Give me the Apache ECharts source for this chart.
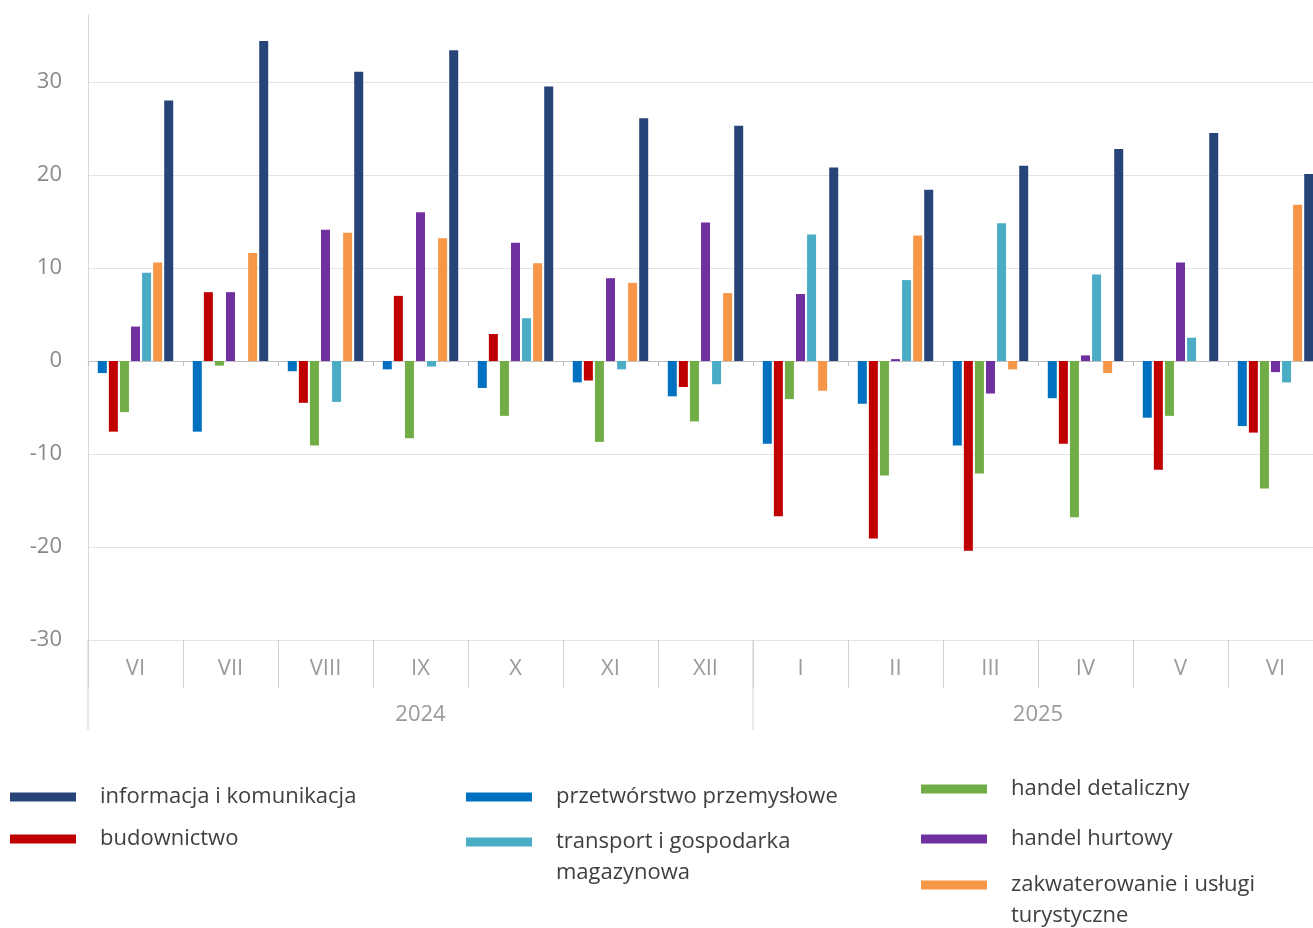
<!DOCTYPE html>
<html><head><meta charset="utf-8">
<script src="https://cdn.jsdelivr.net/npm/echarts@6/dist/echarts.min.js"></script>
<style>html,body{margin:0;padding:0;background:#fff}#c{width:1313px;height:928px}</style>
</head><body><div id="c"></div>
<script>
// ---- data ----
const months = ['VI','VII','VIII','IX','X','XI','XII','I','II','III','IV','V','VI'];
const years = ['2024','2025'];
const yearMonthCounts = [7, 6];
const przetworstwo = [-1.3,-7.6,-1.1,-0.9,-2.9,-2.3,-3.8,-8.9,-4.6,-9.1,-4.0,-6.1,-7.0];
const budownictwo = [-7.6,7.4,-4.5,7.0,2.9,-2.1,-2.8,-16.7,-19.1,-20.4,-8.9,-11.7,-7.7];
const handelDetaliczny = [-5.5,-0.5,-9.1,-8.3,-5.9,-8.7,-6.5,-4.1,-12.3,-12.1,-16.8,-5.9,-13.7];
const handelHurtowy = [3.7,7.4,14.1,16.0,12.7,8.9,14.9,7.2,0.2,-3.5,0.6,10.6,-1.2];
const transport = [9.5,0,-4.4,-0.6,4.6,-0.9,-2.5,13.6,8.7,14.8,9.3,2.5,-2.3];
const zakwaterowanie = [10.6,11.6,13.8,13.2,10.5,8.4,7.3,-3.2,13.5,-0.9,-1.3,0,16.8];
const informacja = [28.0,34.4,31.1,33.4,29.5,26.1,25.3,20.8,18.4,21.0,22.8,24.5,20.1];

const seriesDefs = [
  {name:'przetwórstwo przemysłowe', data: przetworstwo, color:'#0070C0'},
  {name:'budownictwo', data: budownictwo, color:'#C00000'},
  {name:'handel detaliczny', data: handelDetaliczny, color:'#70AD47'},
  {name:'handel hurtowy', data: handelHurtowy, color:'#7030A0'},
  {name:'transport i gospodarka\nmagazynowa', data: transport, color:'#4BACC6'},
  {name:'zakwaterowanie i usługi\nturystyczne', data: zakwaterowanie, color:'#F79646'},
  {name:'informacja i komunikacja', data: informacja, color:'#264478'}
];

const FONT = '"Open Sans", "Noto Sans", sans-serif';
const chart = echarts.init(document.getElementById('c'), null, {renderer:'canvas'});

function legendItem(name, left, top, twoLine) {
  return {
    data: [name], left: left, top: top, orient: 'vertical', padding: 0,
    icon: 'rect', itemWidth: 66, itemHeight: 9, selectedMode: false,
    formatter: twoLine ? (n => '\n' + n) : (n => n),
    textStyle: {fontFamily: FONT, fontSize: 22, color: '#404040', lineHeight: 31,
      padding: [0, 0, 0, 19]}
  };
}

const option = {
  animation: false,
  backgroundColor: '#fff',
  grid: {left: 88, right: -10, top: 15, bottom: 288, containLabel: false, outerBoundsMode: 'none'},
  xAxis: [
    {type: 'category', data: months, position: 'bottom',
     axisLine: {onZero: true, lineStyle: {color: '#bfbfbf', width: 1}},
     axisTick: {show: true, interval: 0, length: 5, lineStyle: {color: '#bfbfbf'}},
     axisLabel: {show: false}, splitLine: {show: false}},
    {type: 'category', data: months, position: 'bottom',
     axisLine: {show: false, onZero: false},
     axisTick: {show: true, interval: 0, length: 48, lineStyle: {color: '#d0d0d0'}},
     axisLabel: {show: true, interval: 0, margin: 18, fontFamily: FONT, fontSize: 22, color: '#9a9a9a'},
     splitLine: {show: false}}
  ],
  yAxis: {
    type: 'value', min: -30, max: 37.2, interval: 10,
    axisLine: {show: true, lineStyle: {color: '#d9d9d9'}},
    axisTick: {show: false},
    axisLabel: {showMaxLabel: false, margin: 26, fontFamily: FONT, fontSize: 22, color: '#8a8a8a'},
    splitLine: {show: true, showMaxLine: false, lineStyle: {color: '#e3e3e3', width: 1}}
  },
  legend: [
    legendItem('informacja i komunikacja', 10, 797 - 15.5, false),
    legendItem('budownictwo', 10, 839 - 15.5, false),
    legendItem('przetwórstwo przemysłowe', 466, 797 - 15.5, false),
    legendItem('transport i gospodarka\nmagazynowa', 466, 842 - 46.5, true),
    legendItem('handel detaliczny', 921, 789 - 15.5, false),
    legendItem('handel hurtowy', 921, 839 - 15.5, false),
    legendItem('zakwaterowanie i usługi\nturystyczne', 921, 885 - 46.5, true)
  ],
  series: seriesDefs.map(s => ({
    name: s.name, type: 'bar', xAxisIndex: 0, data: s.data,
    barWidth: 9, barGap: '23%', itemStyle: {color: s.color}
  }))
};
chart.setOption(option);

// year brackets and labels computed from the axis scale
const px = i => chart.convertToPixel({xAxisIndex: 0}, i);
const band = px(1) - px(0);
const yBottom = chart.convertToPixel({yAxisIndex: 0}, -30);
const graphics = [];
let start = 0;
yearMonthCounts.forEach((cnt, k) => {
  const left = px(start) - band / 2;
  const right = px(start + cnt - 1) + band / 2;
  graphics.push({type: 'line', shape: {x1: left, y1: yBottom, x2: left, y2: yBottom + 90},
    style: {stroke: '#d0d0d0', lineWidth: 1}, z: 10});
  graphics.push({type: 'text', x: (left + right) / 2, y: yBottom + 75,
    style: {text: years[k], fontFamily: FONT, fontSize: 22, fill: '#9a9a9a', align: 'center', verticalAlign: 'middle'}, z: 10});
  start += cnt;
});
chart.setOption({graphic: graphics});
</script>
</body></html>
